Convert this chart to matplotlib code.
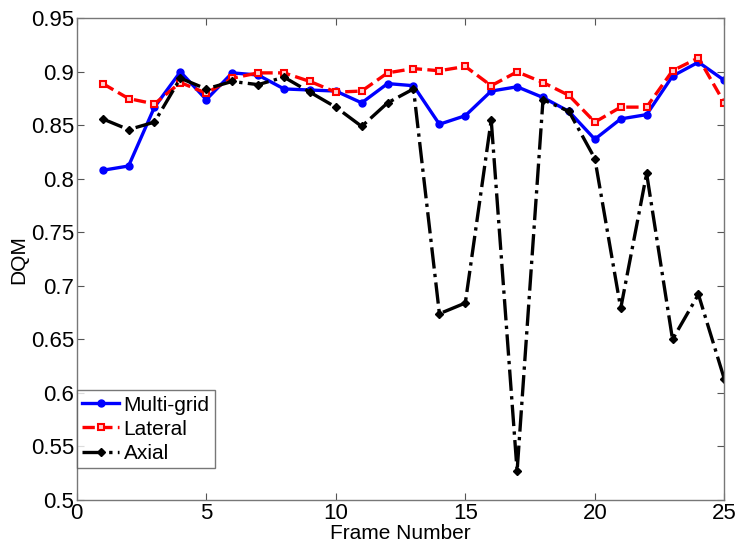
import matplotlib
matplotlib.use("Agg")
import matplotlib.pyplot as plt

frames = list(range(1, 26))
multigrid = [0.808, 0.812, 0.867, 0.900, 0.874, 0.899, 0.897, 0.884, 0.883, 0.882,
             0.871, 0.889, 0.887, 0.851, 0.859, 0.882, 0.886, 0.876, 0.863, 0.837,
             0.856, 0.860, 0.896, 0.909, 0.892]
lateral = [0.889, 0.875, 0.870, 0.890, 0.880, 0.894, 0.899, 0.899, 0.891, 0.881,
           0.882, 0.899, 0.903, 0.901, 0.905, 0.887, 0.900, 0.890, 0.878, 0.853,
           0.867, 0.867, 0.901, 0.913, 0.871]
axial = [0.856, 0.846, 0.853, 0.894, 0.884, 0.891, 0.888, 0.895, 0.881, 0.867,
         0.849, 0.871, 0.884, 0.674, 0.684, 0.855, 0.527, 0.874, 0.863, 0.819,
         0.679, 0.805, 0.650, 0.692, 0.613]
xticks = [0, 5, 10, 15, 20, 25]
yticks = [0.5, 0.55, 0.6, 0.65, 0.7, 0.75, 0.8, 0.85, 0.9, 0.95]
ytick_labels = ["0.5", "0.55", "0.6", "0.65", "0.7", "0.75", "0.8", "0.85", "0.9", "0.95"]

plt.rcParams['font.family'] = ['Liberation Sans', 'DejaVu Sans']

fig = plt.figure(figsize=(7.41, 5.49), dpi=100)
ax = fig.add_axes([0.1036, 0.0893, 0.8739, 0.8774])

ax.plot(frames, multigrid, color='#0000ff', linestyle='-', linewidth=2.4,
        marker='o', markersize=5, markerfacecolor='#0000ff', label='Multi-grid')
ax.plot(frames, lateral, color='#ff0000', linestyle='--', linewidth=2.4,
        marker='s', markersize=5, markerfacecolor='#ffd0d0', markeredgewidth=1.5,
        label='Lateral')
ax.plot(frames, axial, color='black', linestyle='-.', linewidth=2.4,
        marker='D', markersize=4.5, markerfacecolor='black', label='Axial')

ax.set_xlim(0, 25)
ax.set_ylim(0.5, 0.95)
ax.set_xticks(xticks)
ax.set_yticks(yticks)
ax.set_yticklabels(ytick_labels)
ax.tick_params(direction='in', top=True, right=True, labelsize=16, length=5,
               color='#555555', pad=2)
for s in ax.spines.values():
    s.set_color('#777777')
    s.set_linewidth(1.0)

ax.set_xlabel('Frame Number', fontsize=15, labelpad=0)
ax.set_ylabel('DQM', fontsize=15, labelpad=2)

leg = ax.legend(loc='lower left', fontsize=15, frameon=True, fancybox=False,
                borderaxespad=0.0, handlelength=1.8, handletextpad=0.2,
                borderpad=0.25, labelspacing=0.25, bbox_to_anchor=(0.0, 0.066))
leg.get_frame().set_edgecolor('#555555')
leg.get_frame().set_linewidth(1.0)

fig.savefig('out.png', dpi=100)
